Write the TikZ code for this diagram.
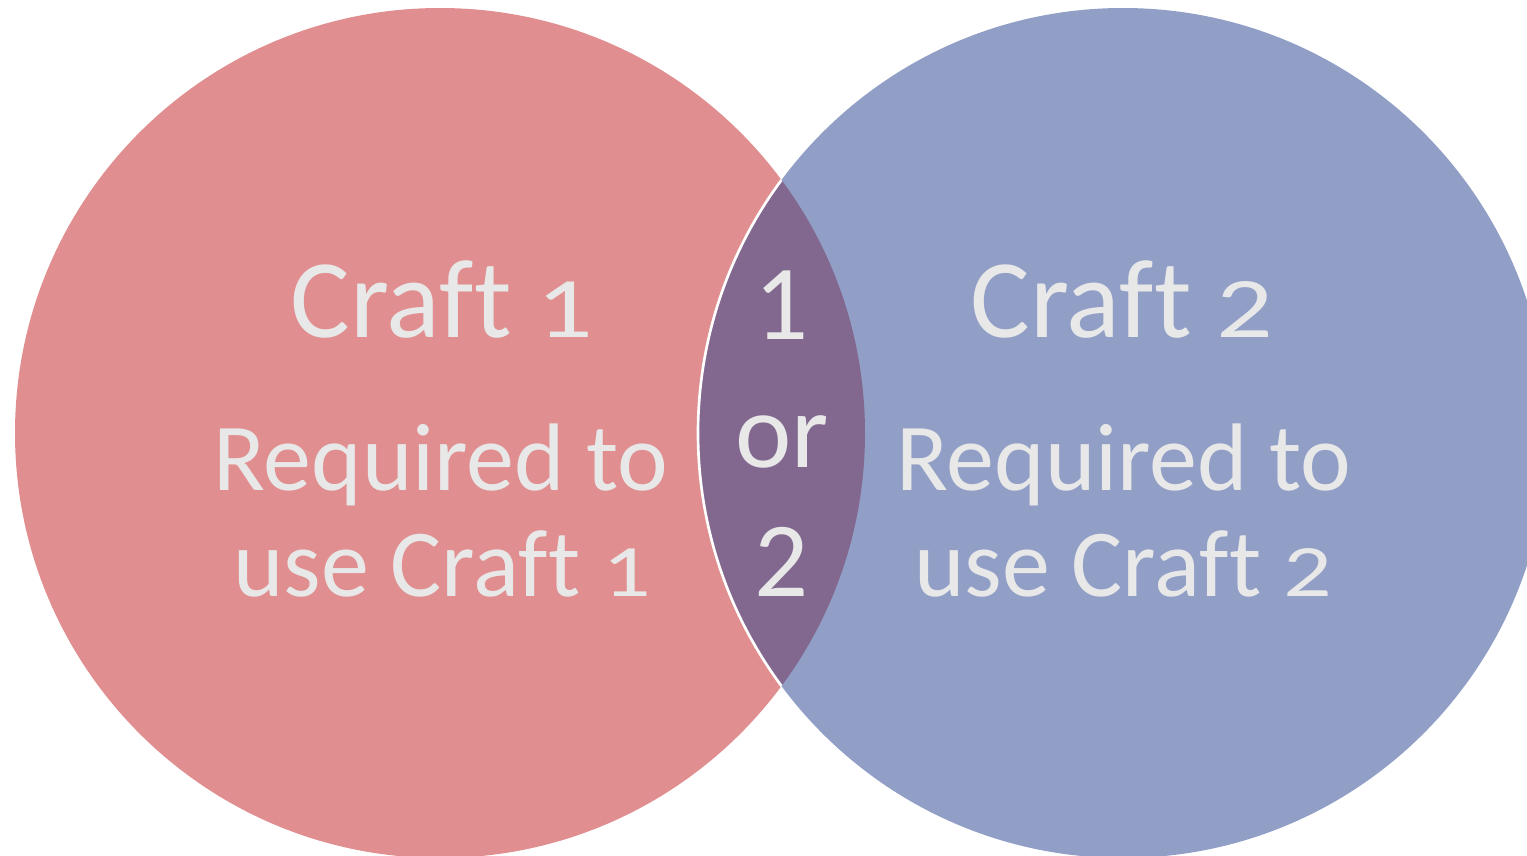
\documentclass[tikz,border=0pt]{standalone}
\usepackage{fontspec}
\setmainfont{Carlito}[Ligatures=NoCommon]
\usepackage{graphicx}
\usepackage{xcolor}
\definecolor{craftone}{HTML}{E08E8F}
\definecolor{crafttwo}{HTML}{919FC7}
\definecolor{craftboth}{HTML}{82688F}
\definecolor{labelgray}{HTML}{E8E8E8}

% small digits in the circle titles
\newcommand{\smalldigit}[1]{\scalebox{1}[0.77]{#1}}

\tikzset{
    bigtext/.style={text=labelgray, anchor=base, inner sep=0.75pt, font=\fontsize{84}{90}\selectfont},
    bodytext/.style={text=labelgray, anchor=base, inner sep=0.75pt, font=\fontsize{72}{80}\selectfont},
    midtext/.style={text=labelgray, anchor=base, inner sep=0.75pt, font=\fontsize{80}{90}\selectfont}
}

\begin{document}
\begin{tikzpicture}[x=0.75pt,y=0.75pt,yscale=-1,xscale=1]
    \useasboundingbox (0,0) rectangle (1527,856);
    \clip (0,0) rectangle (1527,856);

    %Shape: Circle left
    \fill [craftone] (440,433) circle (425);
    %Shape: Circle right
    \fill [crafttwo] (1123,433) circle (425);
    %Shape: Overlap
    \begin{scope}
        \clip (440,433) circle (425);
        \fill [craftboth] (1123,433) circle (425);
        \draw [white, line width=2pt] (1123,433) circle (425);
    \end{scope}

    % Text Node
    \node [bigtext] (craftA) at (442,337) {Craft \smalldigit{1}};
    % Text Node
    \node [bodytext] (reqA) at (441,490) {Required to};
    % Text Node
    \node [bodytext] (useA) at (442,596) {use Craft \smalldigit{1}};

    % Text Node
    \node [bigtext] (craftB) at (1122,337) {Craft \smalldigit{2}};
    % Text Node
    \node [bodytext] (reqB) at (1124,490) {Required to};
    % Text Node
    \node [bodytext] (useB) at (1123,596) {use Craft \smalldigit{2}};

    % Text Node
    \node [midtext] (oneB) at (782,339) {1};
    % Text Node
    \node [midtext] (orB) at (782,467) {or};
    % Text Node
    \node [midtext] (twoB) at (782,596) {2};

\end{tikzpicture}
\end{document}
